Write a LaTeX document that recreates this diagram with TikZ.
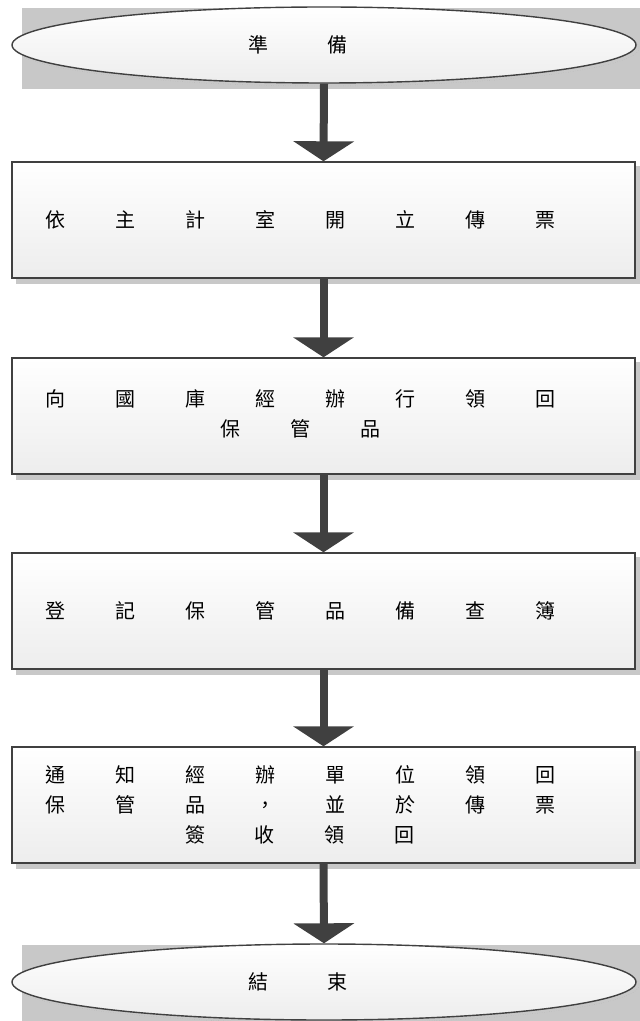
\documentclass[tikz,border=0pt]{standalone}
\usepackage{fontspec}
\setmainfont{Noto Sans CJK TC}
\usetikzlibrary{shapes.geometric,arrows.meta,calc,backgrounds}

\definecolor{linegray}{HTML}{404040}
\definecolor{shadowgray}{HTML}{C8C8C8}
\definecolor{fillgray}{HTML}{EDEDED}

% characters set one by one in cells of fixed width
\newlength{\charpitch}
\newcommand{\spacedchars}[1]{\ifx#1\relax\else\makebox[\charpitch]{#1}\expandafter\spacedchars\fi}
\newcommand{\spaced}[2][35pt]{\setlength{\charpitch}{#1}\spacedchars#2\relax}

\begin{document}
\begin{tikzpicture}[x=0.5pt, y=-0.5pt,
    terminal/.style={ellipse, draw=linegray, line width=0.7pt,
        top color=white, bottom color=fillgray,
        minimum width=312pt, minimum height=38pt, inner sep=0pt},
    stepbox/.style={rectangle, draw=linegray, line width=0.7pt,
        top color=white, bottom color=fillgray,
        minimum width=311.5pt, minimum height=58pt, inner sep=0pt},
    steptext/.style={align=center, inner sep=0pt,
        font=\fontsize{10}{15}\selectfont},
    flowarrow/.style={draw=linegray, line width=4pt,
        -{Triangle[width=30pt,length=10pt]}}]

        \useasboundingbox (0,0) rectangle (640,1021);

        %----- TERMINALS AND STEPS -----
        \node[terminal] (start) at (324,45) {};
        \node[steptext] (starttext) at (298,45) {\spaced[40pt]{準備}};

        \node[stepbox] (b1) at (323.5,220) {};
        \node[steptext] (t1) at (300,220) {\spaced{依主計室開立傳票}};

        \node[stepbox] (b2) at (323.5,416) {};
        \node[steptext] (t2) at (300,414) {\spaced{向國庫經辦行領回}\\\spaced{保管品}};

        \node[stepbox] (b3) at (323.5,611) {};
        \node[steptext] (t3) at (300,611) {\spaced{登記保管品備查簿}};

        \node[stepbox] (b4) at (323.5,805) {};
        \node[steptext] (t4) at (300,805)
            {\spaced{通知經辦單位領回}\\\spaced{保管品，並於傳票}\\\spaced{簽收領回}};

        \node[terminal] (finish) at (324,982) {};
        \node[steptext] (finishtext) at (298,982) {\spaced[40pt]{結束}};

        %----- SHADOWS -----
        \begin{scope}[on background layer]
            \foreach \t in {start, finish} {
                \fill[shadowgray] ($(\t.west |- \t.north)+(11,2)$)
                    rectangle ($(\t.east |- \t.south)+(4,5)$);
                \draw[gray!60, very thin, densely dotted]
                    ([shift={(3,3)}]\t.center) ellipse [x radius=312, y radius=38];
            }
            \foreach \b in {b1,b2,b3,b4}
                \fill[shadowgray] ($(\b.north west)+(5,5)$)
                    rectangle ($(\b.south east)+(5,5)$);
        \end{scope}

        %----- ARROWS -----
        \foreach \a/\b in {start/b1, b1/b2, b2/b3, b3/b4, b4/finish}
            \draw[flowarrow] (\a.south) -- (\b.north);

    \end{tikzpicture}
\end{document}
